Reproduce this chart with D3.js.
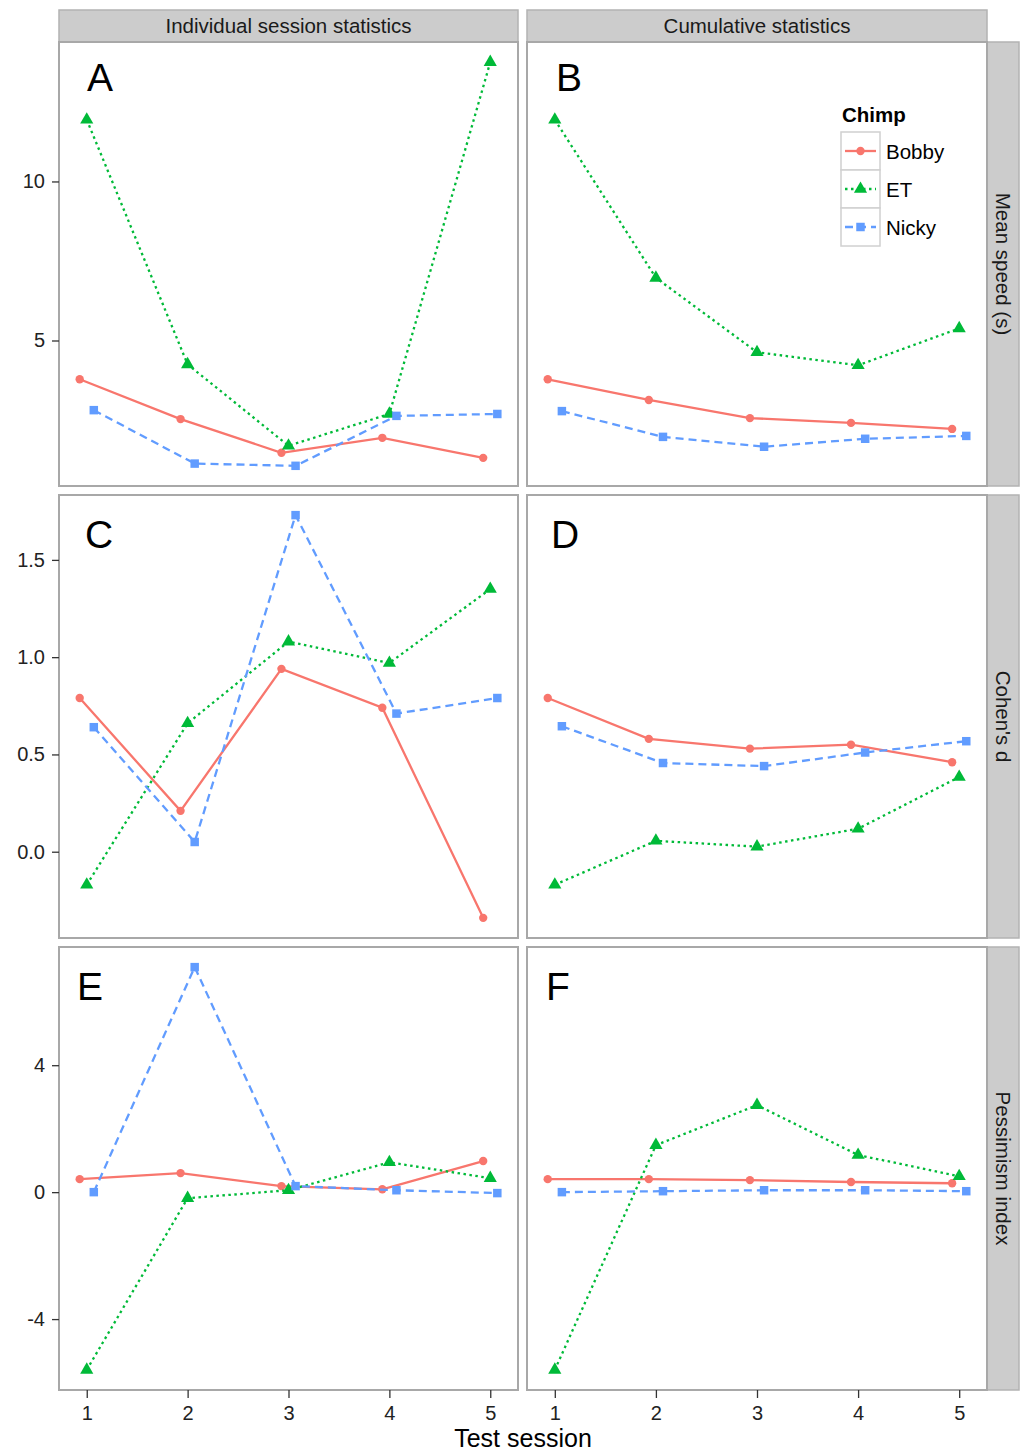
<!DOCTYPE html>
<html><head><meta charset="utf-8">
<script src="https://cdn.jsdelivr.net/npm/d3@7"></script>
<style>
body{margin:0;background:#fff;}
text{font-family:"Liberation Sans",Arial,sans-serif;}
</style></head>
<body>
<svg id="chart" width="1024" height="1454"></svg>
<script>
// ---- data ----
const sessions = [1, 2, 3, 4, 5];
const chimps = ["Bobby", "ET", "Nicky"];
const colLabels = ["Individual session statistics", "Cumulative statistics"];
const rowLabels = ["Mean speed (s)", "Cohen's d", "Pessimism index"];
const panelLetters = [["A", "B"], ["C", "D"], ["E", "F"]];
const yTicks = [[5, 10], [0.0, 0.5, 1.0, 1.5], [-4, 0, 4]];
const yTickDecimals = [0, 1, 0];

// Mean speed (s)
const speedIndivBobby = [3.78, 2.53, 1.47, 1.94, 1.31];
const speedIndivET    = [11.94, 4.25, 1.69, 2.69, 13.75];
const speedIndivNicky = [2.81, 1.13, 1.06, 2.63, 2.69];
const speedCumBobby   = [3.78, 3.13, 2.56, 2.41, 2.22];
const speedCumET      = [11.94, 6.97, 4.63, 4.22, 5.38];
const speedCumNicky   = [2.78, 1.97, 1.66, 1.91, 2.00];
// Cohen's d
const dIndivBobby = [0.79, 0.21, 0.94, 0.74, -0.34];
const dIndivET    = [-0.17, 0.66, 1.08, 0.97, 1.35];
const dIndivNicky = [0.64, 0.05, 1.73, 0.71, 0.79];
const dCumBobby   = [0.79, 0.58, 0.53, 0.55, 0.46];
const dCumET      = [-0.17, 0.056, 0.026, 0.118, 0.384];
const dCumNicky   = [0.645, 0.456, 0.44, 0.51, 0.568];
// Pessimism index
const pIndivBobby = [0.41, 0.60, 0.19, 0.09, 0.98];
const pIndivET    = [-5.60, -0.19, 0.06, 0.94, 0.44];
const pIndivNicky = [0.00, 7.09, 0.19, 0.06, -0.03];
const pCumBobby   = [0.41, 0.41, 0.38, 0.32, 0.28];
const pCumET      = [-5.60, 1.48, 2.74, 1.17, 0.50];
const pCumNicky   = [0.00, 0.03, 0.06, 0.06, 0.03];

const panelData = [
  [[speedIndivBobby, speedIndivET, speedIndivNicky], [speedCumBobby, speedCumET, speedCumNicky]],
  [[dIndivBobby, dIndivET, dIndivNicky], [dCumBobby, dCumET, dCumNicky]],
  [[pIndivBobby, pIndivET, pIndivNicky], [pCumBobby, pCumET, pCumNicky]]
];

// ---- styles ----
const colors = {Bobby: "#F8766D", ET: "#00BA38", Nicky: "#619CFF"};
const dashes = {Bobby: null, ET: "2.5,3.5", Nicky: "8,5"};
const shapes = {Bobby: d3.symbolCircle, ET: d3.symbolTriangle, Nicky: d3.symbolSquare};
const shapeSize = {Bobby: 55, ET: 75, Nicky: 72};
const dodge = {Bobby: -0.07, ET: 0, Nicky: 0.07};

// ---- layout ----
const colX = [[59, 518], [527, 987]];
const rowY = [[42, 486], [495, 938], [947, 1390]];
const stripTop = 10, stripRight = 1019;
const letterOffset = [[28, 29], [26, 24], [18, 19]];

const svg = d3.select("#chart");
const xDomain = [0.725, 5.275];

function rowDomain(r) {
  const all = panelData[r].flat(2);
  const lo = d3.min(all), hi = d3.max(all);
  const pad = (hi - lo) * 0.05;
  return [lo - pad, hi + pad];
}

// column strips
colLabels.forEach((lab, c) => {
  const [x0, x1] = colX[c];
  svg.append("rect").attr("x", x0).attr("y", stripTop).attr("width", x1 - x0).attr("height", rowY[0][0] - stripTop)
    .attr("fill", "#CCCCCC").attr("stroke", "#b3b3b3").attr("stroke-width", 1.5);
  svg.append("text").attr("x", (x0 + x1) / 2).attr("y", (stripTop + rowY[0][0]) / 2 + 7)
    .attr("text-anchor", "middle").attr("font-size", 20.5).attr("fill", "#1a1a1a").text(lab);
});
// row strips
rowLabels.forEach((lab, r) => {
  const [y0, y1] = rowY[r];
  const x0 = colX[1][1];
  svg.append("rect").attr("x", x0).attr("y", y0).attr("width", stripRight - x0).attr("height", y1 - y0)
    .attr("fill", "#CCCCCC").attr("stroke", "#b3b3b3").attr("stroke-width", 1.5);
  const cx = (x0 + stripRight) / 2, cy = (y0 + y1) / 2;
  svg.append("text").attr("transform", `translate(${cx - 7},${cy}) rotate(90)`)
    .attr("text-anchor", "middle").attr("font-size", 20.5).attr("fill", "#1a1a1a").text(lab);
});

function styleAxis(ax) {
  ax.select(".domain").remove();
  ax.selectAll(".tick line").attr("stroke", "#333").attr("stroke-width", 1.3);
  ax.selectAll(".tick text").attr("font-size", 20).attr("fill", "#222")
    .attr("font-family", "'Liberation Sans',Arial,sans-serif");
}

rowY.forEach(([y0, y1], r) => {
  const y = d3.scaleLinear().domain(rowDomain(r)).range([y1, y0]);
  colX.forEach(([x0, x1], c) => {
    const x = d3.scaleLinear().domain(xDomain).range([x0, x1]);
    const g = svg.append("g");
    g.append("rect").attr("x", x0).attr("y", y0).attr("width", x1 - x0).attr("height", y1 - y0)
      .attr("fill", "#fff").attr("stroke", "#a8a8a8").attr("stroke-width", 2);

    if (c === 0) {
      const ax = svg.append("g").attr("transform", `translate(${x0},0)`)
        .call(d3.axisLeft(y).tickValues(yTicks[r]).tickFormat(d => d.toFixed(yTickDecimals[r])).tickSize(7).tickPadding(7));
      styleAxis(ax);
    }
    if (r === 2) {
      const ax = svg.append("g").attr("transform", `translate(0,${y1})`)
        .call(d3.axisBottom(x).tickValues(sessions).tickFormat(d => String(d)).tickSize(8).tickPadding(8));
      styleAxis(ax);
    }

    chimps.forEach((ch, k) => {
      const vals = panelData[r][c][k];
      const pts = sessions.map((s, i) => [x(s + dodge[ch]), y(vals[i])]);
      g.append("path").attr("d", d3.line()(pts)).attr("fill", "none")
        .attr("stroke", colors[ch]).attr("stroke-width", 2.3)
        .attr("stroke-dasharray", dashes[ch]);
      g.selectAll(null).data(pts).join("path")
        .attr("transform", d => `translate(${d[0]},${d[1]})`)
        .attr("d", d3.symbol(shapes[ch], shapeSize[ch]))
        .attr("fill", colors[ch]);
    });

    g.append("text").attr("x", x0 + letterOffset[r][c]).attr("y", y0 + (r === 0 ? 49 : 53))
      .attr("font-size", 39).attr("fill", "#000").text(panelLetters[r][c]);
  });
});

// x axis title
svg.append("text").attr("x", (colX[0][0] + colX[1][1]) / 2).attr("y", 1447)
  .attr("text-anchor", "middle").attr("font-size", 25).attr("fill", "#000").text("Test session");

// legend
const lg = svg.append("g");
lg.append("text").attr("x", 842).attr("y", 122).attr("font-size", 20.5).attr("font-weight", "bold").attr("fill", "#000").text("Chimp");
chimps.forEach((ch, k) => {
  const ky = 132 + k * 38;
  lg.append("rect").attr("x", 841).attr("y", ky).attr("width", 39).attr("height", 38)
    .attr("fill", "#fff").attr("stroke", "#d0d0d0").attr("stroke-width", 1.5);
  lg.append("line").attr("x1", 845).attr("x2", 876).attr("y1", ky + 19).attr("y2", ky + 19)
    .attr("stroke", colors[ch]).attr("stroke-width", 2.3).attr("stroke-dasharray", dashes[ch]);
  lg.append("path").attr("transform", `translate(${860.5},${ky + 19})`)
    .attr("d", d3.symbol(shapes[ch], shapeSize[ch])).attr("fill", colors[ch]);
  lg.append("text").attr("x", 886).attr("y", ky + 27).attr("font-size", 20.5).attr("fill", "#000").text(ch);
});
</script>
</body></html>
